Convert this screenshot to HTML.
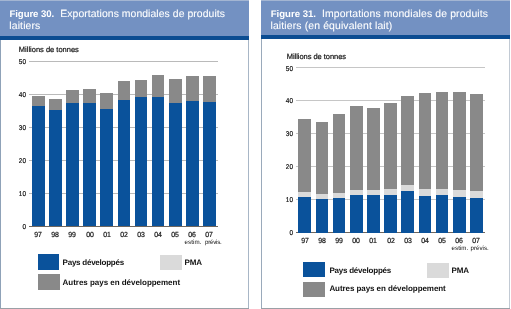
<!DOCTYPE html>
<html><head><meta charset="utf-8"><style>
html,body{margin:0;padding:0;width:511px;height:309px;overflow:hidden;background:#ffffff;}
body{position:relative;font-family:"Liberation Sans",sans-serif;will-change:transform;}
div,span{position:absolute;}
span{white-space:nowrap;line-height:1;text-rendering:geometricPrecision;}
.k{-webkit-text-stroke:0.2px #111;}
.w{-webkit-text-stroke:0.08px #fff;}
</style></head><body>
<div style="left:0px;top:0px;width:249px;height:309px;background:#ffffff;"></div>
<div style="left:0px;top:0px;width:249px;height:36.2px;background:#7391c2;"></div>
<div style="left:0px;top:0px;width:249px;height:1px;background:#a3b5d2;"></div>
<div style="left:0px;top:36.2px;width:249px;height:3.7px;background:#0b4c92;"></div>
<div style="left:0px;top:39.9px;width:1px;height:309px;background:#8fa2b8;"></div>
<div style="left:248px;top:39.9px;width:1px;height:309px;background:#a8b6c6;"></div>
<div style="left:0px;top:308px;width:249px;height:1px;background:#9aa0a6;"></div>
<span style="left:9.5px;top:9.6px;font-size:9.6px;color:#fff;font-weight:bold;letter-spacing:-0.08px;">Figure 30.</span>
<span class="w" style="left:60.3px;top:10.1px;font-size:10.4px;color:#fff;letter-spacing:0.07px;">Exportations mondiales de produits</span>
<span class="w" style="left:9.3px;top:22.2px;font-size:10.4px;color:#fff;letter-spacing:0.14px;">laitiers</span>
<span class="k" style="left:18.8px;top:46.1px;font-size:7.5px;color:#111;">Millions de tonnes</span>
<div style="left:29.2px;top:225.7px;width:189px;height:1.2px;background:#6e665e;"></div>
<span class="k" style="left:26.1px;top:223.88px;font-size:7px;color:#111;text-align:right;width:0;direction:rtl;transform:scaleX(0.92);transform-origin:0 0;">0</span>
<div style="left:29.2px;top:192.75px;width:188.4px;height:1px;background:#bababa;"></div>
<span class="k" style="left:26.1px;top:190.93px;font-size:7px;color:#111;text-align:right;width:0;direction:rtl;transform:scaleX(0.92);transform-origin:0 0;">10</span>
<div style="left:29.2px;top:159.8px;width:188.4px;height:1px;background:#bababa;"></div>
<span class="k" style="left:26.1px;top:157.98px;font-size:7px;color:#111;text-align:right;width:0;direction:rtl;transform:scaleX(0.92);transform-origin:0 0;">20</span>
<div style="left:29.2px;top:126.85px;width:188.4px;height:1px;background:#bababa;"></div>
<span class="k" style="left:26.1px;top:125.03px;font-size:7px;color:#111;text-align:right;width:0;direction:rtl;transform:scaleX(0.92);transform-origin:0 0;">30</span>
<div style="left:29.2px;top:93.9px;width:188.4px;height:1px;background:#bababa;"></div>
<span class="k" style="left:26.1px;top:92.08px;font-size:7px;color:#111;text-align:right;width:0;direction:rtl;transform:scaleX(0.92);transform-origin:0 0;">40</span>
<div style="left:29.2px;top:60.95px;width:188.4px;height:1px;background:#bababa;"></div>
<span class="k" style="left:26.1px;top:59.13px;font-size:7px;color:#111;text-align:right;width:0;direction:rtl;transform:scaleX(0.92);transform-origin:0 0;">50</span>
<div style="left:31.9px;top:95.6px;width:12.75px;height:130.6px;background:#898989;"></div>
<div style="left:31.9px;top:105.7px;width:12.75px;height:120.5px;background:#0a529b;"></div>
<span class="k" style="left:38.25px;top:230.98px;font-size:7.4px;color:#111;transform:translateX(-50%) scaleX(0.94);">97</span>
<div style="left:49.02px;top:99px;width:12.75px;height:127.2px;background:#898989;"></div>
<div style="left:49.02px;top:109.6px;width:12.75px;height:116.6px;background:#0a529b;"></div>
<span class="k" style="left:55.37px;top:230.98px;font-size:7.4px;color:#111;transform:translateX(-50%) scaleX(0.94);">98</span>
<div style="left:66.14px;top:89.7px;width:12.75px;height:136.5px;background:#898989;"></div>
<div style="left:66.14px;top:102.6px;width:12.75px;height:123.6px;background:#0a529b;"></div>
<span class="k" style="left:72.49px;top:230.98px;font-size:7.4px;color:#111;transform:translateX(-50%) scaleX(0.94);">99</span>
<div style="left:83.26px;top:88.9px;width:12.75px;height:137.3px;background:#898989;"></div>
<div style="left:83.26px;top:103.1px;width:12.75px;height:123.1px;background:#0a529b;"></div>
<span class="k" style="left:89.61px;top:230.98px;font-size:7.4px;color:#111;transform:translateX(-50%) scaleX(0.94);">00</span>
<div style="left:100.38px;top:93.3px;width:12.75px;height:132.9px;background:#898989;"></div>
<div style="left:100.38px;top:108.5px;width:12.75px;height:117.7px;background:#0a529b;"></div>
<span class="k" style="left:106.73px;top:230.98px;font-size:7.4px;color:#111;transform:translateX(-50%) scaleX(0.94);">01</span>
<div style="left:117.5px;top:81.4px;width:12.75px;height:144.8px;background:#898989;"></div>
<div style="left:117.5px;top:100px;width:12.75px;height:126.2px;background:#0a529b;"></div>
<span class="k" style="left:123.85px;top:230.98px;font-size:7.4px;color:#111;transform:translateX(-50%) scaleX(0.94);">02</span>
<div style="left:134.62px;top:80px;width:12.75px;height:146.2px;background:#898989;"></div>
<div style="left:134.62px;top:97.3px;width:12.75px;height:128.9px;background:#0a529b;"></div>
<span class="k" style="left:140.97px;top:230.98px;font-size:7.4px;color:#111;transform:translateX(-50%) scaleX(0.94);">03</span>
<div style="left:151.74px;top:74.6px;width:12.75px;height:151.6px;background:#898989;"></div>
<div style="left:151.74px;top:96.5px;width:12.75px;height:129.7px;background:#0a529b;"></div>
<span class="k" style="left:158.09px;top:230.98px;font-size:7.4px;color:#111;transform:translateX(-50%) scaleX(0.94);">04</span>
<div style="left:168.86px;top:79px;width:12.75px;height:147.2px;background:#898989;"></div>
<div style="left:168.86px;top:103px;width:12.75px;height:123.2px;background:#0a529b;"></div>
<span class="k" style="left:175.21px;top:230.98px;font-size:7.4px;color:#111;transform:translateX(-50%) scaleX(0.94);">05</span>
<div style="left:185.98px;top:76.1px;width:12.75px;height:150.1px;background:#898989;"></div>
<div style="left:185.98px;top:101px;width:12.75px;height:125.2px;background:#0a529b;"></div>
<span class="k" style="left:192.33px;top:230.98px;font-size:7.4px;color:#111;transform:translateX(-50%) scaleX(0.94);">06</span>
<div style="left:203.1px;top:75.9px;width:12.75px;height:150.3px;background:#898989;"></div>
<div style="left:203.1px;top:101.5px;width:12.75px;height:124.7px;background:#0a529b;"></div>
<span class="k" style="left:209.45px;top:230.98px;font-size:7.4px;color:#111;transform:translateX(-50%) scaleX(0.94);">07</span>
<span class="k" style="left:184.6px;top:239.69px;font-size:6.2px;color:#111;letter-spacing:0.05px;-webkit-text-stroke:0;">estim.</span>
<span class="k" style="left:205px;top:239.69px;font-size:6.2px;color:#111;letter-spacing:-0.25px;-webkit-text-stroke:0;">prévis.</span>
<div style="left:37.8px;top:254.4px;width:21.7px;height:15.3px;background:#0a529b;"></div>
<div style="left:37.8px;top:274.4px;width:21.8px;height:15.2px;background:#898989;"></div>
<div style="left:160.2px;top:255px;width:21.7px;height:14.8px;background:#dadada;"></div>
<span style="left:62.6px;top:259.02px;font-size:8px;color:#111;font-weight:bold;letter-spacing:-0.24px;">Pays développés</span>
<span style="left:62.6px;top:279.02px;font-size:8px;color:#111;font-weight:bold;letter-spacing:-0.03px;">Autres pays en développement</span>
<span style="left:184.5px;top:259.12px;font-size:8px;color:#111;font-weight:bold;letter-spacing:-0.1px;">PMA</span>
<div style="left:261px;top:0px;width:249px;height:309px;background:#ffffff;"></div>
<div style="left:261px;top:0px;width:249px;height:35px;background:#7391c2;"></div>
<div style="left:261px;top:0px;width:249px;height:1px;background:#a3b5d2;"></div>
<div style="left:261px;top:35px;width:249px;height:3.7px;background:#0b4c92;"></div>
<div style="left:261px;top:38.7px;width:1px;height:309px;background:#9aaabb;"></div>
<div style="left:509px;top:38.7px;width:1px;height:309px;background:#c2cad4;"></div>
<div style="left:261px;top:308px;width:249px;height:1px;background:#9aa0a6;"></div>
<span style="left:270.7px;top:9.8px;font-size:9.6px;color:#fff;font-weight:bold;">Figure 31.</span>
<span class="w" style="left:322px;top:9.7px;font-size:10.4px;color:#fff;letter-spacing:0.13px;">Importations mondiales de produits</span>
<span class="w" style="left:270.5px;top:22.2px;font-size:10.4px;color:#fff;letter-spacing:0.14px;">laitiers (en équivalent lait)</span>
<span class="k" style="left:286.7px;top:52.65px;font-size:7.5px;color:#111;letter-spacing:-0.04px;">Millions de tonnes</span>
<div style="left:295.5px;top:232.1px;width:189px;height:1.2px;background:#6e665e;"></div>
<span class="k" style="left:293px;top:230.28px;font-size:7px;color:#111;text-align:right;width:0;direction:rtl;transform:scaleX(0.92);transform-origin:0 0;">0</span>
<div style="left:295.5px;top:199.15px;width:189px;height:1px;background:#c6c6c6;"></div>
<span class="k" style="left:293px;top:197.33px;font-size:7px;color:#111;text-align:right;width:0;direction:rtl;transform:scaleX(0.92);transform-origin:0 0;">10</span>
<div style="left:295.5px;top:166.2px;width:189px;height:1px;background:#c6c6c6;"></div>
<span class="k" style="left:293px;top:164.38px;font-size:7px;color:#111;text-align:right;width:0;direction:rtl;transform:scaleX(0.92);transform-origin:0 0;">20</span>
<div style="left:295.5px;top:133.25px;width:189px;height:1px;background:#c6c6c6;"></div>
<span class="k" style="left:293px;top:131.43px;font-size:7px;color:#111;text-align:right;width:0;direction:rtl;transform:scaleX(0.92);transform-origin:0 0;">30</span>
<div style="left:295.5px;top:100.3px;width:189px;height:1px;background:#c6c6c6;"></div>
<span class="k" style="left:293px;top:98.48px;font-size:7px;color:#111;text-align:right;width:0;direction:rtl;transform:scaleX(0.92);transform-origin:0 0;">40</span>
<div style="left:295.5px;top:67.35px;width:189px;height:1px;background:#c6c6c6;"></div>
<span class="k" style="left:293px;top:65.53px;font-size:7px;color:#111;text-align:right;width:0;direction:rtl;transform:scaleX(0.92);transform-origin:0 0;">50</span>
<div style="left:298.4px;top:119px;width:12.7px;height:113.6px;background:#898989;"></div>
<div style="left:298.4px;top:191.7px;width:12.7px;height:40.9px;background:#dadada;"></div>
<div style="left:298.4px;top:196.9px;width:12.7px;height:35.7px;background:#0a529b;"></div>
<span class="k" style="left:304.75px;top:237.18px;font-size:7.4px;color:#111;transform:translateX(-50%) scaleX(0.94);">97</span>
<div style="left:315.57px;top:121.8px;width:12.7px;height:110.8px;background:#898989;"></div>
<div style="left:315.57px;top:193.7px;width:12.7px;height:38.9px;background:#dadada;"></div>
<div style="left:315.57px;top:199.2px;width:12.7px;height:33.4px;background:#0a529b;"></div>
<span class="k" style="left:321.92px;top:237.18px;font-size:7.4px;color:#111;transform:translateX(-50%) scaleX(0.94);">98</span>
<div style="left:332.74px;top:114px;width:12.7px;height:118.6px;background:#898989;"></div>
<div style="left:332.74px;top:192.7px;width:12.7px;height:39.9px;background:#dadada;"></div>
<div style="left:332.74px;top:197.9px;width:12.7px;height:34.7px;background:#0a529b;"></div>
<span class="k" style="left:339.09px;top:237.18px;font-size:7.4px;color:#111;transform:translateX(-50%) scaleX(0.94);">99</span>
<div style="left:349.91px;top:106px;width:12.7px;height:126.6px;background:#898989;"></div>
<div style="left:349.91px;top:189.5px;width:12.7px;height:43.1px;background:#dadada;"></div>
<div style="left:349.91px;top:194.6px;width:12.7px;height:38px;background:#0a529b;"></div>
<span class="k" style="left:356.26px;top:237.18px;font-size:7.4px;color:#111;transform:translateX(-50%) scaleX(0.94);">00</span>
<div style="left:367.08px;top:107.6px;width:12.7px;height:125px;background:#898989;"></div>
<div style="left:367.08px;top:189.8px;width:12.7px;height:42.8px;background:#dadada;"></div>
<div style="left:367.08px;top:194.6px;width:12.7px;height:38px;background:#0a529b;"></div>
<span class="k" style="left:373.43px;top:237.18px;font-size:7.4px;color:#111;transform:translateX(-50%) scaleX(0.94);">01</span>
<div style="left:384.25px;top:102.7px;width:12.7px;height:129.9px;background:#898989;"></div>
<div style="left:384.25px;top:189.1px;width:12.7px;height:43.5px;background:#dadada;"></div>
<div style="left:384.25px;top:194.6px;width:12.7px;height:38px;background:#0a529b;"></div>
<span class="k" style="left:390.6px;top:237.18px;font-size:7.4px;color:#111;transform:translateX(-50%) scaleX(0.94);">02</span>
<div style="left:401.42px;top:96.2px;width:12.7px;height:136.4px;background:#898989;"></div>
<div style="left:401.42px;top:184.9px;width:12.7px;height:47.7px;background:#dadada;"></div>
<div style="left:401.42px;top:190.7px;width:12.7px;height:41.9px;background:#0a529b;"></div>
<span class="k" style="left:407.77px;top:237.18px;font-size:7.4px;color:#111;transform:translateX(-50%) scaleX(0.94);">03</span>
<div style="left:418.59px;top:93.3px;width:12.7px;height:139.3px;background:#898989;"></div>
<div style="left:418.59px;top:189.1px;width:12.7px;height:43.5px;background:#dadada;"></div>
<div style="left:418.59px;top:195.6px;width:12.7px;height:37px;background:#0a529b;"></div>
<span class="k" style="left:424.94px;top:237.18px;font-size:7.4px;color:#111;transform:translateX(-50%) scaleX(0.94);">04</span>
<div style="left:435.76px;top:92px;width:12.7px;height:140.6px;background:#898989;"></div>
<div style="left:435.76px;top:189.1px;width:12.7px;height:43.5px;background:#dadada;"></div>
<div style="left:435.76px;top:195.3px;width:12.7px;height:37.3px;background:#0a529b;"></div>
<span class="k" style="left:442.11px;top:237.18px;font-size:7.4px;color:#111;transform:translateX(-50%) scaleX(0.94);">05</span>
<div style="left:452.93px;top:91.7px;width:12.7px;height:140.9px;background:#898989;"></div>
<div style="left:452.93px;top:190.4px;width:12.7px;height:42.2px;background:#dadada;"></div>
<div style="left:452.93px;top:196.9px;width:12.7px;height:35.7px;background:#0a529b;"></div>
<span class="k" style="left:459.28px;top:237.18px;font-size:7.4px;color:#111;transform:translateX(-50%) scaleX(0.94);">06</span>
<div style="left:470.1px;top:93.6px;width:12.7px;height:139px;background:#898989;"></div>
<div style="left:470.1px;top:191.1px;width:12.7px;height:41.5px;background:#dadada;"></div>
<div style="left:470.1px;top:197.5px;width:12.7px;height:35.1px;background:#0a529b;"></div>
<span class="k" style="left:476.45px;top:237.18px;font-size:7.4px;color:#111;transform:translateX(-50%) scaleX(0.94);">07</span>
<span class="k" style="left:451.5px;top:245.79px;font-size:6.2px;color:#111;letter-spacing:0.05px;-webkit-text-stroke:0;">estim.</span>
<span class="k" style="left:470.5px;top:245.79px;font-size:6.2px;color:#111;-webkit-text-stroke:0;">prévis.</span>
<div style="left:303.3px;top:262.1px;width:21.9px;height:15.3px;background:#0a529b;"></div>
<div style="left:303.3px;top:282.3px;width:21.9px;height:14.7px;background:#898989;"></div>
<div style="left:427.2px;top:262.7px;width:21.5px;height:14.9px;background:#dadada;"></div>
<span style="left:329.4px;top:266.92px;font-size:8px;color:#111;font-weight:bold;letter-spacing:-0.22px;">Pays développés</span>
<span style="left:329.4px;top:285.42px;font-size:8px;color:#111;font-weight:bold;letter-spacing:-0.07px;">Autres pays en développement</span>
<span style="left:451.4px;top:267.22px;font-size:8px;color:#111;font-weight:bold;letter-spacing:-0.1px;">PMA</span>
</body></html>
